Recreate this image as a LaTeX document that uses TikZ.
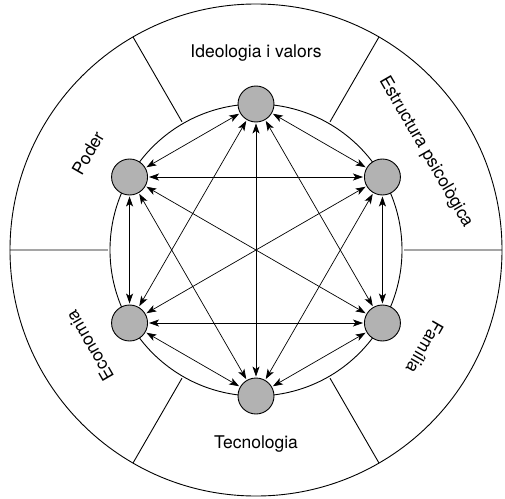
\documentclass[tikz,border=0pt]{standalone}
\usepackage{fontspec}
\setmainfont{TeX Gyre Heros}
\usetikzlibrary{arrows.meta}
\begin{document}
\begin{tikzpicture}[x=1pt,y=1pt,
    factor/.style={circle,draw,line width=0.9pt,fill=gray!60,minimum size=36pt,inner sep=0pt},
    rel/.style={{Stealth[length=10pt,width=7pt,inset=2.5pt]}-{Stealth[length=10pt,width=7pt,inset=2.5pt]},line width=0.7pt,shorten <=1pt,shorten >=1pt},
    area/.style={font=\fontsize{17.5}{20}\selectfont}]
    \useasboundingbox (-256,-248) rectangle (249,250);

    % rings and sectors
    \draw[line width=0.9pt] (0,0) circle[radius=246pt];
    \draw[line width=0.9pt] (0,0) circle[radius=146pt];
    \draw[line width=0.9pt] (0:148pt)--(0:246pt) (60:148pt)--(60:246pt) (120:148pt)--(120:246pt)
        (180:148pt)--(180:246pt) (240:148pt)--(240:246pt) (300:148pt)--(300:246pt);

    % factors
    \node[factor] (ideo) at (90:146pt) {};
    \node[factor] (psic) at (30:146pt) {};
    \node[factor] (fam) at (-30:146pt) {};
    \node[factor] (tec) at (-90:146pt) {};
    \node[factor] (eco) at (210:146pt) {};
    \node[factor] (pod) at (150:146pt) {};

    % sector labels
    \node[area] (lideo) at (90:197pt) {Ideologia i valors};
    \node[area,rotate=-60] (lpsic) at (30:196pt) {Estructura psicològica};
    \node[area,rotate=-120] (lfam) at (-30:195pt) {Família};
    \node[area] (ltec) at (-90:194pt) {Tecnologia};
    \node[area,rotate=120] (leco) at (210:192pt) {Economia};
    \node[area,rotate=60] (lpod) at (150:194pt) {Poder};

    % relations
    \draw[rel] (ideo)--(psic);
    \draw[rel] (ideo)--(fam);
    \draw[rel] (ideo)--(tec);
    \draw[rel] (ideo)--(eco);
    \draw[rel] (ideo)--(pod);
    \draw[rel] (psic)--(fam);
    \draw[rel] (psic)--(tec);
    \draw[rel] (psic)--(eco);
    \draw[rel] (psic)--(pod);
    \draw[rel] (fam)--(tec);
    \draw[rel] (fam)--(eco);
    \draw[rel] (fam)--(pod);
    \draw[rel] (tec)--(eco);
    \draw[rel] (tec)--(pod);
    \draw[rel] (eco)--(pod);
\end{tikzpicture}
\end{document}
